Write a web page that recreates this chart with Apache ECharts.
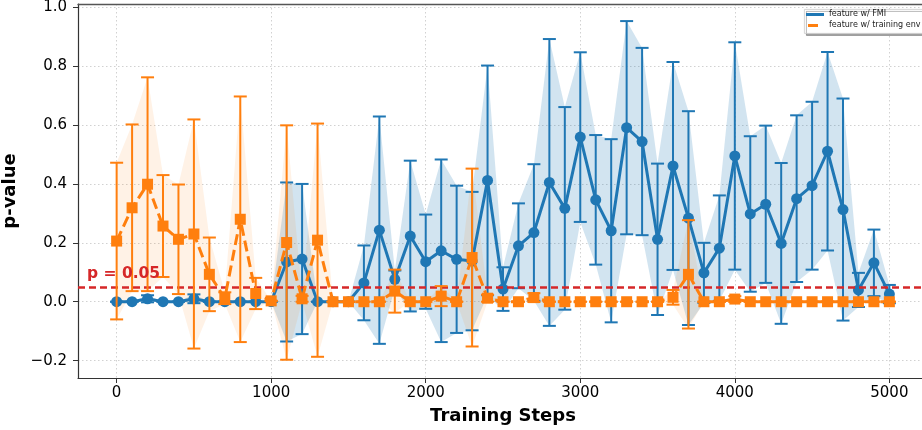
<!DOCTYPE html>
<html><head><meta charset="utf-8">
<script src="https://cdn.jsdelivr.net/npm/echarts@6/dist/echarts.min.js"></script>
<style>html,body{margin:0;padding:0;background:#fff}#c{width:922px;height:430px}</style>
</head><body><div id="c"></div>
<script>
const steps = [0,100,200,300,400,500,600,700,800,900,1000,1100,1200,1300,1400,1500,1600,1700,1800,1900,2000,2100,2200,2300,2400,2500,2600,2700,2800,2900,3000,3100,3200,3300,3400,3500,3600,3700,3800,3900,4000,4100,4200,4300,4400,4500,4600,4700,4800,4900,5000];
const fmiMean = [0,0,0.01,0,0,0.01,0,0,0,0,0,0.135,0.145,0,0,0,0.064,0.243,0.076,0.223,0.136,0.173,0.144,0.138,0.412,0.043,0.19,0.235,0.405,0.317,0.559,0.346,0.241,0.591,0.544,0.212,0.461,0.284,0.098,0.182,0.495,0.298,0.331,0.198,0.35,0.394,0.511,0.313,0.04,0.132,0.026];
const fmiErr  = [0,0,0.012,0,0,0.015,0,0,0,0,0,0.27,0.255,0,0,0,0.127,0.386,0.03,0.256,0.16,0.31,0.25,0.235,0.39,0.074,0.144,0.232,0.487,0.344,0.288,0.22,0.311,0.362,0.318,0.257,0.353,0.363,0.102,0.179,0.386,0.264,0.267,0.273,0.283,0.285,0.337,0.377,0.058,0.113,0.031];
const envMean = [0.206,0.319,0.399,0.257,0.212,0.23,0.093,0.012,0.28,0.028,0.003,0.201,0.01,0.209,0,0,0,0,0.036,0,0,0.019,0,0.15,0.012,0,0,0.014,0,0,0,0,0,0,0,0,0.015,0.093,0,0,0.009,0,0,0,0,0,0,0,0,0,0];
const envErr  = [0.266,0.283,0.363,0.173,0.186,0.389,0.125,0.02,0.417,0.053,0,0.398,0.01,0.396,0,0,0,0,0.073,0,0,0.034,0,0.302,0.012,0,0,0.015,0,0,0,0,0,0,0,0,0.025,0.184,0,0,0.01,0,0,0,0,0,0,0,0,0,0];
const xTicks = [0,1000,2000,3000,4000,5000];
const yTicks = [-0.2,0,0.2,0.4,0.6,0.8,1.0];
const threshold = 0.05;
const thresholdLabel = 'p = 0.05';
const seriesNames = ['feature w/ FMI','feature w/ training env'];
const xTitle = 'Training Steps';
const yTitle = 'p-value';

const BLUE='#1f77b4', ORANGE='#ff7f0e', RED='#d62728';
const FONT='DejaVu Sans';

function rows(mean, err){ return steps.map((s,i)=>[s, mean[i], mean[i]-err[i], mean[i]+err[i]]); }

function bandSeries(mean, err, fill, z, extra){
  const data = rows(mean, err);
  return Object.assign({
    type:'custom', z, silent:true, animation:false,
    data, encode:{x:0, y:[2,3]},
    renderItem(params, api){
      if(params.dataIndex!==0) return null;
      const up = data.map(r=>api.coord([r[0], r[3]]));
      const lo = data.map(r=>api.coord([r[0], r[2]])).reverse();
      return {type:'polygon', shape:{points: up.concat(lo)}, style:{fill:fill, stroke:'none'}};
    }
  }, extra||{});
}
function errSeries(mean, err, color, z){
  return {type:'custom', z, silent:true, animation:false,
    data: rows(mean, err), encode:{x:0, y:[2,3]},
    renderItem(params, api){
      const x=api.value(0), lo=api.value(2), hi=api.value(3);
      const pl=api.coord([x,lo]), ph=api.coord([x,hi]);
      const w=6.5;
      const st={stroke:color, lineWidth:2};
      return {type:'group', children:[
        {type:'line', shape:{x1:pl[0],y1:pl[1],x2:ph[0],y2:ph[1]}, style:st},
        {type:'line', shape:{x1:pl[0]-w,y1:pl[1],x2:pl[0]+w,y2:pl[1]}, style:st},
        {type:'line', shape:{x1:ph[0]-w,y1:ph[1],x2:ph[0]+w,y2:ph[1]}, style:st}
      ]};
    }};
}

const chart = echarts.init(document.getElementById('c'), null, {renderer:'canvas'});
chart.setOption({
  animation:false,
  backgroundColor:'#fff',
  textStyle:{fontFamily:FONT},
  grid:{left:78, top:4, width:850, height:374, outerBoundsMode:'none', containLabel:false, show:false},
  xAxis:[{
    type:'value', min:-250, max:5250,
    name:xTitle, nameLocation:'middle', nameGap:29,
    nameTextStyle:{fontFamily:FONT, fontSize:18, fontWeight:'bold', color:'#000'},
    axisLine:{show:true, onZero:false, lineStyle:{color:'#333', width:1.2}},
    axisTick:{show:true, length:5, lineStyle:{color:'#333', width:1}, customValues:xTicks},
    axisLabel:{fontFamily:FONT, fontSize:15, color:'#000', margin:8, customValues:xTicks,
      formatter:v=>String(v)},
    splitLine:{show:true, lineStyle:{color:'#cccccc', type:[1.5,2.5], width:0.9}}
  },{
    type:'value', min:-250, max:5250, position:'top',
    axisLine:{show:true, onZero:false, lineStyle:{color:'#555', width:1.4}},
    axisTick:{show:false}, axisLabel:{show:false}, splitLine:{show:false}
  }],
  yAxis:{
    type:'value', min:-0.259, max:1.011,
    name:yTitle, nameLocation:'middle', nameGap:51, nameRotate:90,
    nameTextStyle:{fontFamily:FONT, fontSize:18, fontWeight:'bold', color:'#000'},
    axisLine:{show:true, onZero:false, lineStyle:{color:'#333', width:1.2}},
    axisTick:{show:true, length:5, lineStyle:{color:'#333', width:1}, customValues:yTicks},
    axisLabel:{fontFamily:FONT, fontSize:15, color:'#000', margin:11, customValues:yTicks,
      formatter:v=> (v<0?'\u2212':'') + Math.abs(v).toFixed(1)},
    splitLine:{show:true, lineStyle:{color:'#cccccc', type:[1.5,2.5], width:0.9}}
  },
  series:[
    bandSeries(fmiMean, fmiErr, 'rgba(31,119,180,0.2)', 1),
    bandSeries(envMean, envErr, 'rgba(255,127,14,0.1)', 2, {
      markLine:{silent:true, symbol:'none', animation:false,
        lineStyle:{color:RED, type:[7,4], width:2.5},
        label:{show:true, position:'insideStartTop', formatter:thresholdLabel, distance:[9,5],
          color:RED, fontFamily:FONT, fontSize:15.5, fontWeight:'bold'},
        data:[{yAxis:threshold}]}
    }),
    errSeries(fmiMean, fmiErr, BLUE, 3),
    {type:'line', name:seriesNames[0], z:4, animation:false, showAllSymbol:true,
      data: steps.map((s,i)=>[s, fmiMean[i]]),
      symbol:'circle', symbolSize:11,
      lineStyle:{color:BLUE, width:3}, itemStyle:{color:BLUE}},
    errSeries(envMean, envErr, ORANGE, 5),
    {type:'line', name:seriesNames[1], z:6, animation:false, showAllSymbol:true,
      data: steps.map((s,i)=>[s, envMean[i]]),
      symbol:'rect', symbolSize:11,
      lineStyle:{color:ORANGE, width:3, type:[11,5]}, itemStyle:{color:ORANGE}}
  ],
  graphic:[
    {type:'rect', left:804, top:9, z:100, shape:{width:130, height:24},
      style:{fill:'#fff', stroke:'#cccccc', lineWidth:0.8, shadowColor:'rgba(0,0,0,0.35)', shadowOffsetX:2, shadowOffsetY:2, shadowBlur:0}},
    {type:'line', z:101, shape:{x1:806, y1:14.5, x2:824, y2:14.5}, style:{stroke:BLUE, lineWidth:3}},
    {type:'line', z:101, shape:{x1:808, y1:25.5, x2:818, y2:25.5}, style:{stroke:ORANGE, lineWidth:3}},
    {type:'text', z:101, left:829, top:10, style:{text:seriesNames[0], font:'8px "DejaVu Sans"', fill:'#222'}},
    {type:'text', z:101, left:829, top:21, style:{text:seriesNames[1], font:'8px "DejaVu Sans"', fill:'#222'}}
  ]
});
</script></body></html>
